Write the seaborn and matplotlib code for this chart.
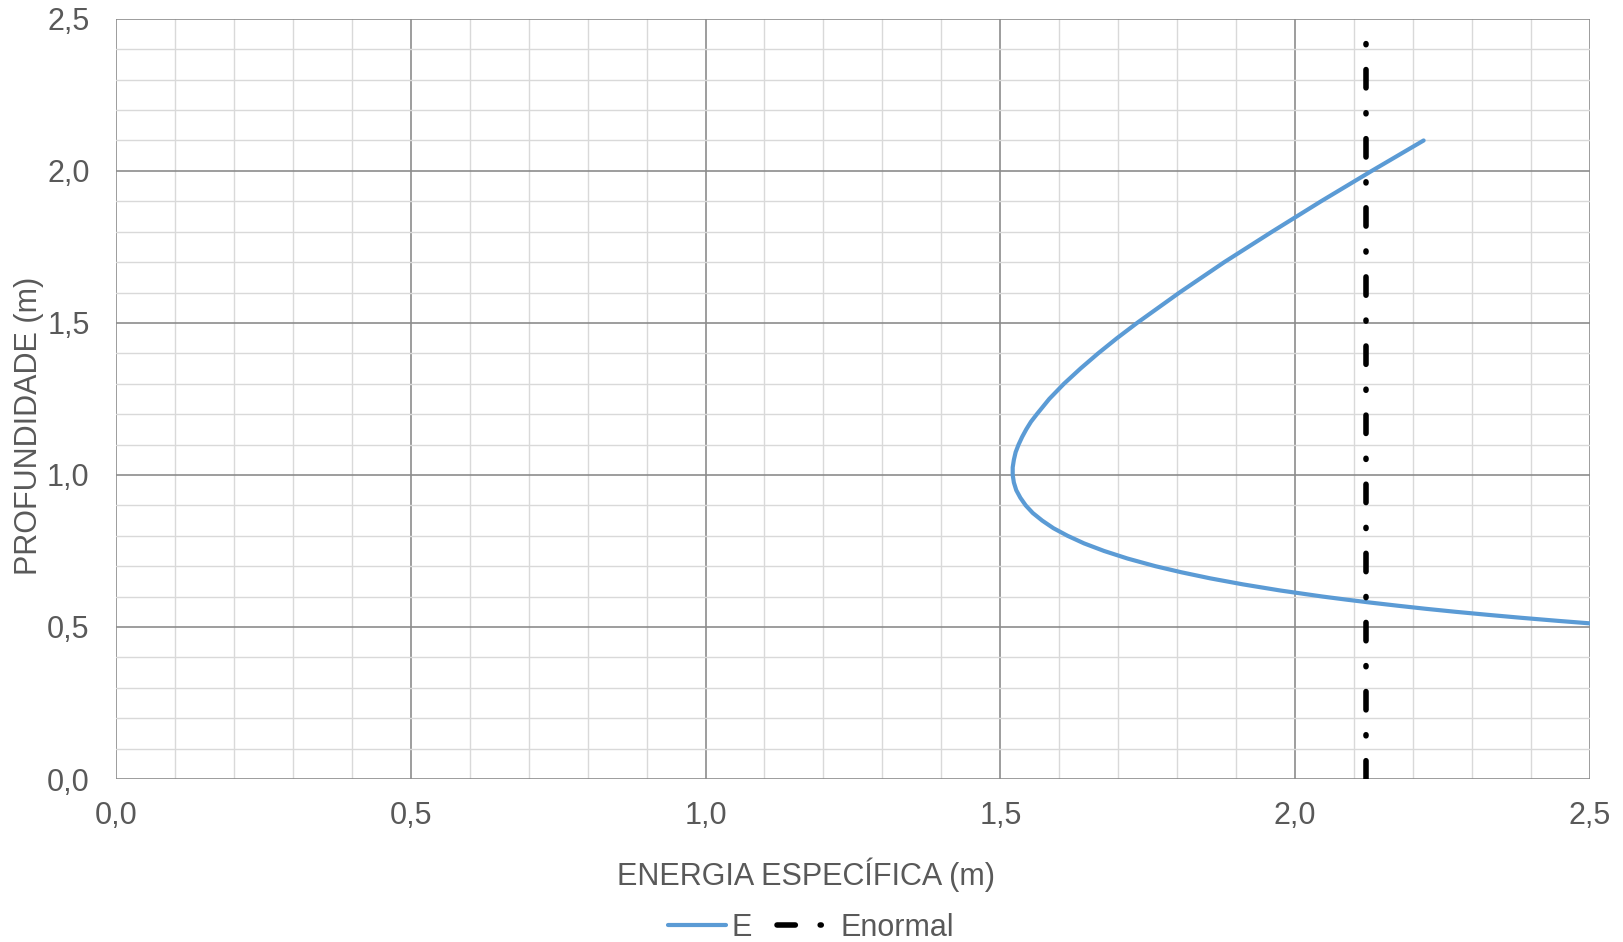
import numpy as np
import pandas as pd
import seaborn as sns
import matplotlib.pyplot as plt
from matplotlib.ticker import MultipleLocator, FuncFormatter
from matplotlib.lines import Line2D

# Curva de energia especifica
profundidade = [0.50, 0.51, 0.52, 0.53, 0.54, 0.55, 0.56, 0.57, 0.58, 0.59, 0.60,
                0.62, 0.64, 0.66, 0.68, 0.70, 0.725, 0.75, 0.775, 0.80, 0.825,
                0.85, 0.875, 0.90, 0.925, 0.95, 0.975, 1.00, 1.025, 1.05, 1.075,
                1.10, 1.125, 1.15, 1.175, 1.20, 1.25, 1.30, 1.35, 1.40, 1.45,
                1.50, 1.60, 1.70, 1.80, 1.90, 2.00, 2.10]
energia = [2.584, 2.513, 2.447, 2.385, 2.327, 2.272, 2.221, 2.174, 2.129, 2.087, 2.047,
           1.975, 1.912, 1.856, 1.807, 1.763, 1.716, 1.676, 1.642, 1.614, 1.590,
           1.571, 1.555, 1.543, 1.534, 1.527, 1.523, 1.521, 1.521, 1.523, 1.526,
           1.531, 1.537, 1.544, 1.552, 1.562, 1.583, 1.608, 1.636, 1.666, 1.698,
           1.732, 1.804, 1.880, 1.961, 2.044, 2.130, 2.218]

# Energia na profundidade normal
enormal_x = [2.12, 2.12]
enormal_y = [0.0, 2.425]

df = pd.DataFrame({"E": energia, "y": profundidade})

sns.set_style("white")
plt.rcParams['font.family'] = ['Liberation Sans', 'DejaVu Sans']

fig = plt.figure(figsize=(16.24, 9.42), dpi=100)
ax = fig.add_axes([0.0714, 0.173, 0.9076, 0.807])

blue = "#5B9BD5"
dash_dot = (3.3, 4.47, 0.2, 4.47)
sns.lineplot(data=df, x="E", y="y", sort=False, estimator=None, ax=ax,
             color=blue, linewidth=3.0, zorder=3)
ax.plot(enormal_x, enormal_y, color="black", linewidth=4.0,
        dashes=dash_dot, dash_capstyle="round", zorder=4)

ax.set_xlim(0, 2.5)
ax.set_ylim(0, 2.5)
ax.xaxis.set_major_locator(MultipleLocator(0.5))
ax.yaxis.set_major_locator(MultipleLocator(0.5))
ax.xaxis.set_minor_locator(MultipleLocator(0.1))
ax.yaxis.set_minor_locator(MultipleLocator(0.1))
fmt = FuncFormatter(lambda v, p: f"{v:.1f}".replace(".", ","))
ax.xaxis.set_major_formatter(fmt)
ax.yaxis.set_major_formatter(fmt)

ax.grid(which="major", color="#8c8c8c", linewidth=1.2, zorder=1)
ax.grid(which="minor", color="#d9d9d9", linewidth=1.0, zorder=0)
ax.set_axisbelow(True)
for s in ax.spines.values():
    s.set_visible(False)

ax.tick_params(which="both", length=0, labelsize=22, labelcolor="#595959")
ax.tick_params(axis="x", pad=16)
ax.tick_params(axis="y", pad=19)

ax.set_xlabel("ENERGIA ESPECÍFICA (m)", fontsize=22, color="#595959")
ax.set_ylabel("PROFUNDIDADE (m)", fontsize=22, color="#595959")
ax.xaxis.label.set_verticalalignment("center")
ax.yaxis.label.set_verticalalignment("center")
ax.xaxis.set_label_coords(0.468, -0.126)
ax.yaxis.set_label_coords(-0.059, 0.4645)

handles = [Line2D([], [], color=blue, linewidth=3.0),
           Line2D([], [], color="black", linewidth=4.0, dashes=dash_dot,
                  dash_capstyle="round")]
fig.legend(handles, ["E", "Enormal"], loc="center", bbox_to_anchor=(0.4994, 0.015),
           ncol=2, frameon=False, fontsize=22, labelcolor="#595959",
           handlelength=1.9, columnspacing=0.8, handletextpad=0.2)

fig.savefig("out.png", dpi=100)
